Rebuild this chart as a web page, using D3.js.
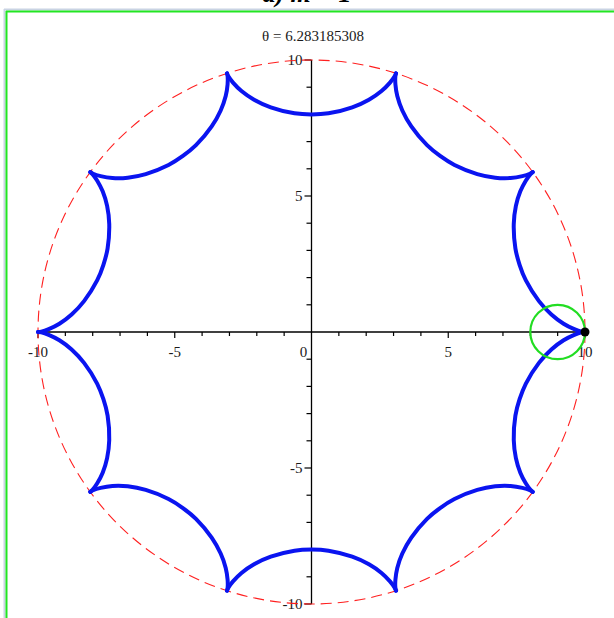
<!DOCTYPE html>
<html>
<head>
<meta charset="utf-8">
<script src="https://cdn.jsdelivr.net/npm/d3@7/dist/d3.min.js"></script>
<style>
  body { margin: 0; background: #fff; }
  svg { display: block; }
  text { font-family: "Liberation Serif", "DejaVu Serif", serif; fill: #1a1a1a; }
</style>
</head>
<body>
<svg id="chart" width="614" height="618"></svg>
<script>
// values
var title = "θ = 6.283185308";
var xTicks = [-10, -5, 0, 5, 10];
var yTicks = [-10, -5, 5, 10];
var minorTicks = d3.range(-10, 11);
var outerRadius = 10;
var rollCenter = [9, 0], rollRadius = 1;
var tracePoint = [10, 0];

// one arch of the blue curve (the top one, between cusps)
var archPoints = [
  [-3.09, 9.51], [-3.04, 9.40], [-2.87, 9.17], [-2.56, 8.86], [-2.10, 8.54],
  [-1.49, 8.26], [-0.62, 8.04], [0, 8.00], [0.62, 8.04], [1.49, 8.26],
  [2.10, 8.54], [2.56, 8.86], [2.87, 9.17], [3.04, 9.40], [3.09, 9.51]
];
// the same arch repeats at these angles (degrees)
var archRotations = [0, 36, 72, 108, 144, 180, 216, 252, 288, 324];

var svg = d3.select("#chart");

var x = d3.scaleLinear().domain([-10, 10]).range([38, 585]);
var y = d3.scaleLinear().domain([-10, 10]).range([604, 60]);

// window frame
svg.append("line").attr("x1", 4.5).attr("x2", 4.5).attr("y1", 9).attr("y2", 618)
  .attr("stroke", "#c9d3e3").attr("stroke-width", 2);
svg.append("line").attr("x1", 4).attr("x2", 614).attr("y1", 9.5).attr("y2", 9.5)
  .attr("stroke", "#c9d3e3").attr("stroke-width", 2);
svg.append("line").attr("x1", 6.5).attr("x2", 6.5).attr("y1", 11).attr("y2", 618)
  .attr("stroke", "#22e622").attr("stroke-width", 2);
svg.append("line").attr("x1", 6).attr("x2", 614).attr("y1", 11.5).attr("y2", 11.5)
  .attr("stroke", "#22e622").attr("stroke-width", 2);

// caption above, mostly cut off
svg.append("text").attr("x", 307).attr("y", 2).attr("text-anchor", "middle")
  .style("font-size", "26px").style("font-weight", "bold").style("font-style", "italic")
  .style("fill", "#000").text("a) m = 1");

svg.append("text").attr("x", 313).attr("y", 41).attr("text-anchor", "middle")
  .style("font-size", "15px").text(title);

// axes
var g = svg.append("g");
g.append("line").attr("x1", x(-10)).attr("x2", x(10)).attr("y1", y(0)).attr("y2", y(0))
  .attr("stroke", "#000").attr("stroke-width", 1.3);
g.append("line").attr("x1", x(0)).attr("x2", x(0)).attr("y1", y(10)).attr("y2", y(-10))
  .attr("stroke", "#000").attr("stroke-width", 1.3);

g.selectAll(".xt").data(minorTicks.filter(function(d) { return d != 0; }))
  .enter().append("line")
  .attr("x1", function(d) { return x(d); }).attr("x2", function(d) { return x(d); })
  .attr("y1", y(0)).attr("y2", function(d) { return y(0) + (d % 5 == 0 ? 6 : 4); })
  .attr("stroke", "#000").attr("stroke-width", 1.2);

g.selectAll(".yt").data(minorTicks.filter(function(d) { return d != 0; }))
  .enter().append("line")
  .attr("y1", function(d) { return y(d); }).attr("y2", function(d) { return y(d); })
  .attr("x1", x(0)).attr("x2", function(d) { return x(0) - (d % 5 == 0 ? 7 : 5); })
  .attr("stroke", "#000").attr("stroke-width", 1.2);

// red dashed circle
svg.append("ellipse")
  .attr("cx", x(0)).attr("cy", y(0))
  .attr("rx", x(outerRadius) - x(0)).attr("ry", y(0) - y(outerRadius))
  .attr("fill", "none").attr("stroke", "#ff2020").attr("stroke-width", 1.1)
  .attr("stroke-dasharray", "11,6");

// tick labels
g.selectAll(".xl").data(xTicks).enter().append("text")
  .attr("x", function(d) { return d == 0 ? x(0) - 8 : x(d); })
  .attr("y", y(0) + 25)
  .attr("text-anchor", "middle")
  .style("font-size", "15px")
  .text(function(d) { return d < 0 ? "-" + Math.abs(d) : d; });

g.selectAll(".yl").data(yTicks).enter().append("text")
  .attr("x", x(0) - 9)
  .attr("y", function(d) { return y(d) + 5; })
  .attr("text-anchor", "end")
  .style("font-size", "15px")
  .text(function(d) { return d < 0 ? "-" + Math.abs(d) : d; });

// blue curve, arch by arch
var line = d3.line()
  .x(function(d) { return x(d[0]); })
  .y(function(d) { return y(d[1]); })
  .curve(d3.curveCatmullRom);

svg.selectAll(".arch").data(archRotations).enter().append("path")
  .attr("d", function(a) {
    var r = a * Math.PI / 180, c = Math.cos(r), s = Math.sin(r);
    return line(archPoints.map(function(p) {
      return [p[0] * c - p[1] * s, p[0] * s + p[1] * c];
    }));
  })
  .attr("fill", "none").attr("stroke", "#0a14f0").attr("stroke-width", 4)
  .attr("stroke-linejoin", "round").attr("stroke-linecap", "round");

// rolling circle and traced point
svg.append("ellipse")
  .attr("cx", x(rollCenter[0])).attr("cy", y(rollCenter[1]))
  .attr("rx", x(rollRadius) - x(0)).attr("ry", y(0) - y(rollRadius))
  .attr("fill", "none").attr("stroke", "#22dd22").attr("stroke-width", 2.2);

svg.append("circle")
  .attr("cx", x(tracePoint[0])).attr("cy", y(tracePoint[1])).attr("r", 4.5)
  .attr("fill", "#000");
</script>
</body>
</html>
